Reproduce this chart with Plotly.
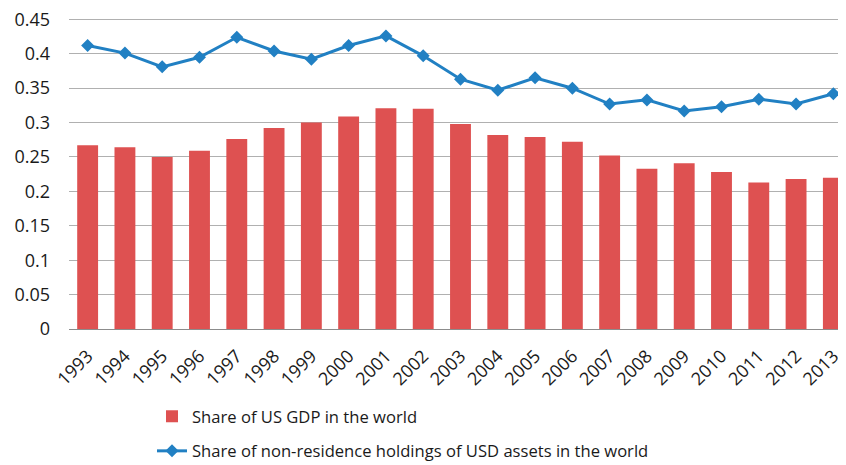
import plotly.graph_objects as go

# Data
years = [str(y) for y in range(1993, 2014)]
gdp_share = [0.267, 0.264, 0.250, 0.259, 0.276, 0.292, 0.300, 0.309, 0.321, 0.320,
             0.298, 0.282, 0.279, 0.272, 0.252, 0.233, 0.241, 0.228, 0.213, 0.218, 0.220]
usd_holdings_share = [0.412, 0.401, 0.381, 0.395, 0.424, 0.404, 0.392, 0.412, 0.426, 0.397,
                      0.363, 0.347, 0.365, 0.350, 0.327, 0.333, 0.317, 0.323, 0.334, 0.327, 0.342]
y_ticks = [0, 0.05, 0.1, 0.15, 0.2, 0.25, 0.3, 0.35, 0.4, 0.45]
y_ticktext = ['0', '0.05', '0.1', '0.15', '0.2', '0.25', '0.3', '0.35', '0.4', '0.45']

BAR_COLOR = '#DE5151'
LINE_COLOR = '#2180C3'
GRID_COLOR = '#B0B0B0'
TEXT_COLOR = '#1A1A1A'

fig = go.Figure()
fig.add_trace(go.Bar(
    x=years, y=gdp_share, name='Share of US GDP in the world',
    legendgroup='gdp',
    marker=dict(color=BAR_COLOR, line=dict(width=0))
))
fig.add_trace(go.Scatter(
    x=years, y=usd_holdings_share, mode='lines+markers',
    name='Share of non-residence holdings of USD assets in the world',
    legendgroup='usd',
    line=dict(color=LINE_COLOR, width=3),
    marker=dict(symbol='diamond', size=10, color=LINE_COLOR)
))

# page body adds an 8px offset, so margins are shifted accordingly
fig.update_layout(
    width=846, height=465,
    paper_bgcolor='white', plot_bgcolor='white',
    font=dict(family='Open Sans, sans-serif', size=17, color=TEXT_COLOR),
    margin=dict(l=61, r=2, t=9.6, b=144, autoexpand=False),
    bargap=0.44,
    showlegend=True,
    legend=dict(
        orientation='v', x=0.106, y=-0.225, xanchor='left', yanchor='top',
        font=dict(size=16.6), tracegroupgap=10, itemwidth=30,
        bgcolor='rgba(0,0,0,0)'
    ),
    xaxis=dict(
        type='category', tickangle=-45, showgrid=False, showline=False,
        ticks='', tickfont=dict(size=18), range=[-0.5, 20.5], automargin=False,
        ticklabelstandoff=12, ticklabeloverflow='allow'
    ),
    yaxis=dict(
        range=[0, 0.452], tickvals=y_ticks, ticktext=y_ticktext,
        showgrid=True, gridcolor=GRID_COLOR, gridwidth=1.3,
        zeroline=True, zerolinecolor='#8C8C8C', zerolinewidth=1.3,
        tickfont=dict(size=18), ticks='', ticklabelstandoff=18, automargin=False,
        ticklabeloverflow='allow'
    )
)

fig.write_html('out.html')
